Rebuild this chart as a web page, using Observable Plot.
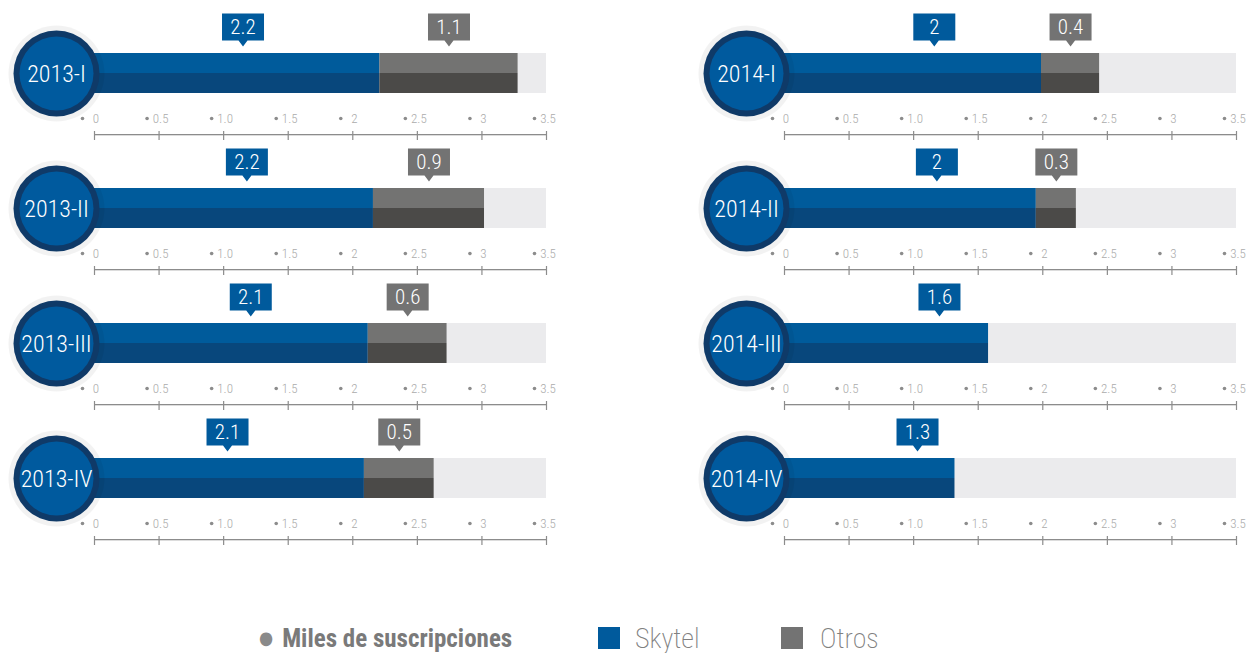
<!DOCTYPE html>
<html>
<head>
<meta charset="utf-8">
<script src="https://cdn.jsdelivr.net/npm/d3@7"></script>
<script src="https://cdn.jsdelivr.net/npm/@observablehq/plot@0.6"></script>
<style>
  body { margin: 0; background: #ffffff; width: 1248px; height: 653px; overflow: hidden; }
  #chart { position: relative; width: 1248px; }
  .cond { font-family: "Roboto Condensed", "Liberation Sans Narrow", "DejaVu Sans Condensed", "Roboto", sans-serif; }
  #legend { position: relative; width: 1248px; height: 108px; color: #777777; }
  #legend .item { position: absolute; white-space: nowrap; line-height: 1; }
  #legend .sw { position: absolute; width: 22px; height: 22px; }
</style>
</head>
<body>
<div id="chart"></div>
<div id="legend" class="cond">
  <div class="item" style="left:259px; top:81px; font-size:25px; font-weight:700; color:#7a7a7a;"><span style="color:#8a8a8a; font-size:18px; vertical-align:3px; margin-right:9px;">●</span>Miles de suscripciones</div>
  <div class="sw" style="left:598px; top:82px; background:#005a9c;"></div>
  <div class="item" style="left:635px; top:80px; font-size:28px; font-weight:200; color:#808080;">Skytel</div>
  <div class="sw" style="left:781px; top:82px; background:#737373;"></div>
  <div class="item" style="left:820px; top:80px; font-size:28px; font-weight:200; color:#808080;">Otros</div>
</div>
<script>
// ---- data ----
const periods = ["2013-I", "2013-II", "2013-III", "2013-IV", "2014-I", "2014-II", "2014-III", "2014-IV"];
const years = ["2013", "2013", "2013", "2013", "2014", "2014", "2014", "2014"];
const quarters = ["I", "II", "III", "IV", "I", "II", "III", "IV"];
const skytel = [2.21, 2.16, 2.12, 2.09, 1.99, 1.95, 1.58, 1.32];
const otros = [1.07, 0.86, 0.61, 0.54, 0.45, 0.31, 0, 0];
const skytelLabels = ["2.2", "2.2", "2.1", "2.1", "2", "2", "1.6", "1.3"];
const otrosLabels = ["1.1", "0.9", "0.6", "0.5", "0.4", "0.3", "", ""];
const skytelLabelAt = [1.15, 1.18, 1.21, 1.03, 1.16, 1.18, 1.20, 1.03];
const tickValues = [0, 0.5, 1, 1.5, 2, 2.5, 3, 3.5];
const tickLabels = ["0", "0.5", "1.0", "1.5", "2", "2.5", "3", "3.5"];

const rows = periods.map((p, i) => ({
  period: p, year: years[i], quarter: quarters[i],
  skytel: skytel[i], otros: otros[i],
  skytelLabel: skytelLabels[i], otrosLabel: otrosLabels[i],
  skytelAt: skytelLabelAt[i]
}));
const otrosRows = rows.filter(d => d.otros > 0);
const axisSpan = [{lo: tickValues[0], hi: tickValues[tickValues.length - 1]}];

const FONT = '"Roboto Condensed", "Liberation Sans Narrow", "DejaVu Sans Condensed", Roboto, sans-serif';

// callout box with a pointer below, drawn around the dot's centre
const callout = {
  draw(ctx) {
    ctx.moveTo(-21, -13.5);
    ctx.lineTo(21, -13.5);
    ctx.lineTo(21, 13.5);
    ctx.lineTo(4.5, 13.5);
    ctx.lineTo(0, 19.5);
    ctx.lineTo(-4.5, 13.5);
    ctx.lineTo(-21, 13.5);
    ctx.closePath();
  }
};

const fac = {fx: "year", fy: "quarter"};
const barTop = 48, barBottom = 47;
const mid = {lineAnchor: "middle", textAnchor: "middle"};

const chart = Plot.plot({
  width: 1248,
  height: 545,
  marginTop: 5,
  marginBottom: 0,
  marginLeft: 93,
  marginRight: 11,
  style: {fontFamily: FONT, background: "#ffffff"},
  x: {domain: [tickValues[0], tickValues[tickValues.length - 1]], axis: null},
  fx: {domain: ["2013", "2014"], paddingInner: 0.3444, paddingOuter: 0, axis: null},
  fy: {domain: ["I", "II", "III", "IV"], padding: 0, axis: null},
  marks: [
    // track
    Plot.barX(rows, {...fac, x1: () => axisSpan[0].lo, x2: () => axisSpan[0].hi, fill: "#ebebed", insetTop: barTop, insetBottom: barBottom}),
    // Skytel (two tones)
    Plot.barX(rows, {...fac, x: "skytel", fill: "#005b9b", insetTop: barTop, insetBottom: 67}),
    Plot.barX(rows, {...fac, x: "skytel", fill: "#08477c", insetTop: 68, insetBottom: barBottom}),
    // Otros (two tones)
    Plot.barX(otrosRows, {...fac, x1: "skytel", x2: d => d.skytel + d.otros, fill: "#737372", insetTop: barTop, insetBottom: 67}),
    Plot.barX(otrosRows, {...fac, x1: "skytel", x2: d => d.skytel + d.otros, fill: "#4b4a48", insetTop: 68, insetBottom: barBottom}),
    // callouts
    Plot.dot(rows, {...fac, x: "skytelAt", frameAnchor: "top", dy: 21.5, symbol: callout, r: 5, fill: "#005a9c", stroke: "none"}),
    Plot.text(rows, {...fac, ...mid, x: "skytelAt", text: "skytelLabel", frameAnchor: "top", dy: 22, fill: "#ffffff", fontSize: 21, fontWeight: 300}),
    Plot.dot(otrosRows, {...fac, x: d => d.skytel + d.otros / 2, frameAnchor: "top", dy: 21.5, symbol: callout, r: 5, fill: "#737373", stroke: "none"}),
    Plot.text(otrosRows, {...fac, ...mid, x: d => d.skytel + d.otros / 2, text: "otrosLabel", frameAnchor: "top", dy: 22, fill: "#ffffff", fontSize: 21, fontWeight: 300}),
    // axis in every panel
    Plot.barX(axisSpan, {x1: "lo", x2: "hi", fill: "#8c8c8c", insetTop: 129, insetBottom: 4.7}),
    Plot.ruleX(tickValues, {x: d => d, stroke: "#8c8c8c", strokeWidth: 1.2, insetTop: 126, insetBottom: 0}),
    Plot.dot(tickValues, {x: d => d, frameAnchor: "top", dy: 113, dx: -12, r: 1.8, fill: "#8c8c8c", stroke: "none"}),
    Plot.text(tickValues, {...mid, x: d => d, text: (d, i) => tickLabels[i], frameAnchor: "top", dy: 113.5, dx: 1.5, fill: "#ababab", fontSize: 13, fontWeight: 300}),
    // period badges
    Plot.dot(rows, {...fac, frameAnchor: "left", dx: -38, dy: 0.5, r: 48, fill: "#000000", fillOpacity: 0.05, stroke: "none"}),
    Plot.dot(rows, {...fac, frameAnchor: "left", dx: -38, dy: 0.5, r: 43, fill: "#0f3a68", stroke: "none"}),
    Plot.dot(rows, {...fac, frameAnchor: "left", dx: -38, dy: 0.5, r: 37, fill: "#005a9e", stroke: "none"}),
    Plot.text(rows, {...fac, ...mid, text: "period", frameAnchor: "left", dx: -38, dy: 1, fill: "#ffffff", fontSize: 24, fontWeight: 300})
  ]
});
document.getElementById("chart").appendChild(chart);
</script>
</body>
</html>
